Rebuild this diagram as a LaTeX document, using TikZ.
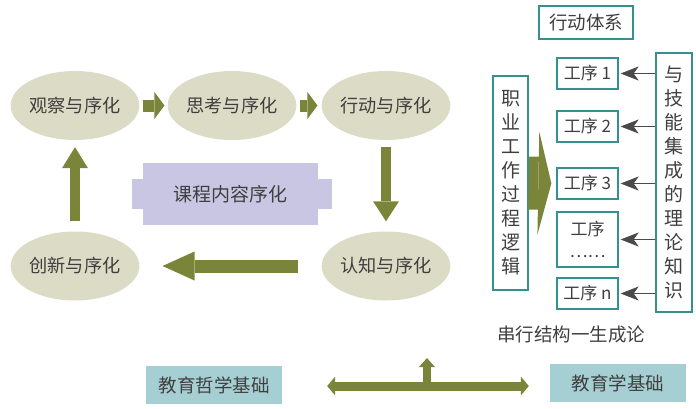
\documentclass[tikz,border=0pt]{standalone}
\usepackage{fontspec}
\setmainfont{Noto Sans CJK SC}
\usetikzlibrary{arrows.meta,shapes.geometric,calc}
\definecolor{ellc}{HTML}{DCDBC5}
\definecolor{oli}{HTML}{7A853A}
\definecolor{pur}{HTML}{C9C6E3}
\definecolor{tealb}{HTML}{35908F}
\definecolor{tealf}{HTML}{A6CFD3}
\definecolor{txt}{HTML}{3F3F3F}
\definecolor{arrg}{HTML}{4A4A4A}
\tikzset{
  every node/.style={text=txt, inner sep=0pt},
  ellnode/.style={ellipse, fill=ellc, minimum width=124pt, minimum height=69pt, font=\fontsize{18.2}{20}\selectfont},
  tbox/.style={draw=tealb, line width=1.3pt, fill=white, font=\fontsize{18.5}{20}\selectfont},
  gbox/.style={tbox, minimum width=61pt, minimum height=31pt, font=\fontsize{17}{22}\selectfont},
  vbox/.style={tbox, align=center, font=\fontsize{19}{24}\selectfont},
  bbox/.style={fill=tealf, minimum width=136pt, minimum height=38pt, font=\fontsize{18.5}{20}\selectfont},
  fat/.style n args={3}{draw=oli, line width=#1, -{Triangle[width=#2, length=#3, line width=0pt]}},
  thinarr/.style={draw=arrg, line width=0.9pt, -{Stealth[length=18pt, width=14pt, inset=5pt]}, shorten >=2pt}
}
\begin{document}
\begin{tikzpicture}[x=1pt,y=-1pt]
\useasboundingbox (0,0) rectangle (696,408);

% ellipses
\node[ellnode] (e1) at (75,105.5) {观察与序化};
\node[ellnode] (e2) at (232,105.5) {思考与序化};
\node[ellnode] (e3) at (386,105.5) {行动与序化};
\node[ellnode] (e4) at (386,266) {认知与序化};
\node[ellnode] (e5) at (75,266) {创新与序化};

% fat arrows
\draw[fat={12pt}{27pt}{10pt}, shorten <=3pt, shorten >=3pt] (e1.east) -- (e2.west);
\draw[fat={12pt}{27pt}{10pt}, shorten <=3pt, shorten >=4pt] (e2.east) -- (e3.west);
\draw[fat={10pt}{26pt}{20pt}, shorten <=7pt, shorten >=10pt] (e3.south) -- (e4.north);
\draw[fat={13pt}{29pt}{32pt}, shorten <=23pt, shorten >=23pt] (e4.west) -- (e5.east);
\draw[fat={10pt}{26pt}{21pt}, shorten <=10pt, shorten >=7pt] (e5.north) -- (e1.south);

% purple banner
\node[fill=pur, minimum width=175pt, minimum height=62pt, font=\fontsize{19}{21}\selectfont] (kc) at (230.5,194) {课程内容序化};
\fill[pur] ($(kc.west)+(-11,-15)$) rectangle ($(kc.west)+(0,15)$);
\fill[pur] ($(kc.east)+(0,-15)$) rectangle ($(kc.east)+(14,15)$);

% right side
\node[tbox, minimum width=94pt, minimum height=33pt] (xd) at (586,22.5) {行动体系};
\node[vbox, minimum width=35pt, minimum height=214pt] (jy) at (510.5,183) {职\\业\\工\\作\\过\\程\\逻\\辑};
\node[gbox] (g1) at (587.5,73.5) {工序 1};
\node[gbox] (g2) at (587.5,126.5) {工序 2};
\node[gbox] (g3) at (587.5,183.5) {工序 3};
\node[gbox, minimum height=55pt, align=center] (g4) at (587.5,239.5) {工序\\……};
\node[gbox] (g5) at (587.5,293.5) {工序 n};
\node[vbox, minimum width=36pt, minimum height=259pt] (kn) at (674,182.5) {与\\技\\能\\集\\成\\的\\理\\论\\知\\识};

\draw[fat={53pt}{103pt}{13pt}, shorten >=5pt] (jy.east) -- (g3.west);

\foreach \g in {g1,g2,g3,g4,g5}
  \draw[thinarr] (kn.west |- \g.east) -- (\g.east);

\node[font=\fontsize{18.5}{20}\selectfont] (cx) at (571,335) {串行结构一生成论};

% bottom
\node[bbox] (b1) at (214,385) {教育哲学基础};
\node[bbox] (b2) at (618,383) {教育学基础};
\coordinate (ay) at (0,386);
\draw[draw=oli, line width=9pt, {Triangle[width=19pt, length=8pt, line width=0pt]}-{Triangle[width=19pt, length=8pt, line width=0pt]}, shorten <=45pt, shorten >=21pt] (b1.east |- ay) -- (b2.west |- ay);
\coordinate (mid) at (427,386);
\coordinate (up) at (427,358);
\draw[fat={8pt}{16pt}{9pt}] (mid) -- (up);
\end{tikzpicture}
\end{document}
